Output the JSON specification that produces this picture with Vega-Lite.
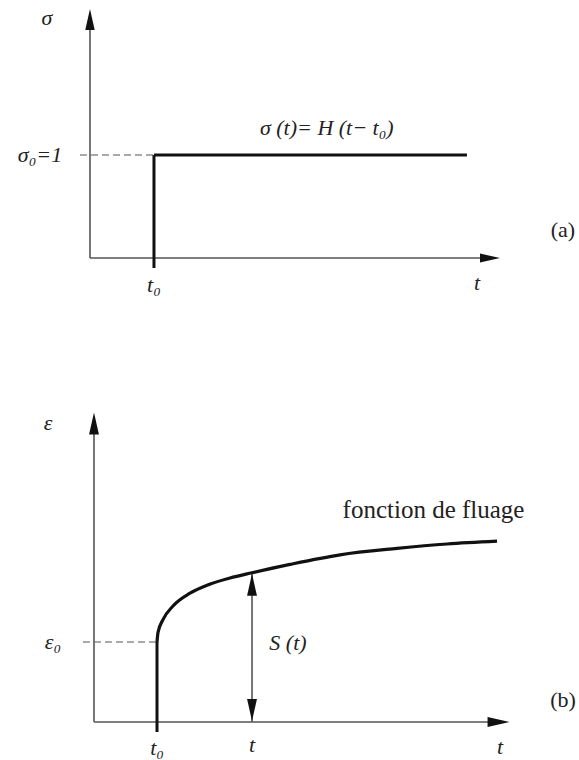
{
  "$schema": "https://vega.github.io/schema/vega-lite/v6.json",
  "padding": 0,
  "spacing": 0,
  "background": "white",
  "config": {"view": {"stroke": null}, "concat": {"spacing": 0}},
  "datasets": {
    "axesA": [
      {"x": 0, "y": 0, "x2": 0, "y2": 2.22},
      {"x": 0, "y": 0, "x2": 6.2, "y2": 0}
    ],
    "stepA": [
      {"x": 1, "y": -0.097, "x2": 1, "y2": 1},
      {"x": 1, "y": 1, "x2": 5.89, "y2": 1}
    ],
    "dashA": [
      {"x": -0.156, "y": 1, "x2": 1, "y2": 1}
    ],
    "arrowUpA": [{"x": 0, "y": 2.316}],
    "arrowRightA": [{"x": 6.25, "y": 0}],
    "mathA": [
      {"x": -0.672, "y": 2.33, "text": "σ"},
      {"x": -0.781, "y": 1.0, "text": "σ₀=1"},
      {"x": 3.70, "y": 1.262, "text": "σ (t)= H (t− t₀)"},
      {"x": 1.0, "y": -0.262, "text": "t₀"},
      {"x": 6.05, "y": -0.243, "text": "t"}
    ],
    "plainA": [
      {"x": 7.39, "y": 0.272, "text": "(a)"}
    ],
    "axesB": [
      {"x": 0, "y": 0, "x2": 0, "y2": 3.6},
      {"x": 0, "y": 0, "x2": 6.35, "y2": 0},
      {"x": 2.508, "y": 0, "x2": 2.508, "y2": 1.865}
    ],
    "stepB": [
      {"x": 1, "y": -0.125, "x2": 1, "y2": 1}
    ],
    "dashB": [
      {"x": -0.175, "y": 1, "x2": 1, "y2": 1}
    ],
    "curveB": [
      {"x": 1.0, "y": 1.0},
      {"x": 1.016, "y": 1.12},
      {"x": 1.095, "y": 1.28},
      {"x": 1.254, "y": 1.45},
      {"x": 1.524, "y": 1.61},
      {"x": 1.794, "y": 1.71},
      {"x": 2.159, "y": 1.80},
      {"x": 2.508, "y": 1.865},
      {"x": 3.111, "y": 1.97},
      {"x": 3.905, "y": 2.09},
      {"x": 4.810, "y": 2.17},
      {"x": 5.603, "y": 2.225},
      {"x": 6.397, "y": 2.26}
    ],
    "arrowUpB": [{"x": 0, "y": 3.731}, {"x": 2.508, "y": 1.715}],
    "arrowDownB": [{"x": 2.508, "y": 0.15}],
    "arrowRightB": [{"x": 6.421, "y": 0}],
    "mathB": [
      {"x": -0.730, "y": 3.74, "text": "ε"},
      {"x": -0.651, "y": 1.0, "text": "ε₀"},
      {"x": 3.079, "y": 0.9875, "text": "S (t)"},
      {"x": 1.0, "y": -0.32, "text": "t₀"},
      {"x": 2.508, "y": -0.2875, "text": "t"},
      {"x": 6.444, "y": -0.3125, "text": "t"}
    ],
    "plainB": [
      {"x": 7.444, "y": 0.275, "text": "(b)"}
    ],
    "noteB": [
      {"x": 5.389, "y": 2.65, "text": "fonction de fluage"}
    ]
  },
  "vconcat": [
    {
      "width": 579,
      "height": 380,
      "encoding": {
        "x": {"field": "x", "type": "quantitative", "scale": {"domain": [-1.406, 7.641], "nice": false, "zero": false}, "axis": null},
        "y": {"field": "y", "type": "quantitative", "scale": {"domain": [-1.184, 2.505], "nice": false, "zero": false}, "axis": null}
      },
      "layer": [
        {"data": {"name": "axesA"}, "mark": {"type": "rule", "color": "#555555", "strokeWidth": 1.6}, "encoding": {"x2": {"field": "x2"}, "y2": {"field": "y2"}}},
        {"data": {"name": "dashA"}, "mark": {"type": "rule", "color": "#555555", "strokeWidth": 1.1, "strokeDash": [7, 4]}, "encoding": {"x2": {"field": "x2"}, "y2": {"field": "y2"}}},
        {"data": {"name": "stepA"}, "mark": {"type": "rule", "color": "#111111", "strokeWidth": 3}, "encoding": {"x2": {"field": "x2"}, "y2": {"field": "y2"}}},
        {"data": {"name": "arrowUpA"}, "mark": {"type": "point", "shape": "M0,-1L0.45,1L-0.45,1Z", "size": 441, "filled": true, "color": "#111111", "opacity": 1}},
        {"data": {"name": "arrowRightA"}, "mark": {"type": "point", "shape": "M1,0L-1,0.45L-1,-0.45Z", "size": 400, "filled": true, "color": "#111111", "opacity": 1}},
        {"data": {"name": "mathA"}, "mark": {"type": "text", "font": "Liberation Serif, DejaVu Serif, serif", "fontStyle": "italic", "fontSize": 22, "color": "#222222", "baseline": "middle", "align": "center"}, "encoding": {"text": {"field": "text"}}},
        {"data": {"name": "plainA"}, "mark": {"type": "text", "font": "Liberation Serif, DejaVu Serif, serif", "fontSize": 22, "color": "#222222", "baseline": "middle", "align": "center"}, "encoding": {"text": {"field": "text"}}}
      ]
    },
    {
      "width": 579,
      "height": 380,
      "encoding": {
        "x": {"field": "x", "type": "quantitative", "scale": {"domain": [-1.492, 7.698], "nice": false, "zero": false}, "axis": null},
        "y": {"field": "y", "type": "quantitative", "scale": {"domain": [-0.475, 4.275], "nice": false, "zero": false}, "axis": null}
      },
      "layer": [
        {"data": {"name": "axesB"}, "mark": {"type": "rule", "color": "#555555", "strokeWidth": 1.6}, "encoding": {"x2": {"field": "x2"}, "y2": {"field": "y2"}}},
        {"data": {"name": "dashB"}, "mark": {"type": "rule", "color": "#555555", "strokeWidth": 1.1, "strokeDash": [7, 4]}, "encoding": {"x2": {"field": "x2"}, "y2": {"field": "y2"}}},
        {"data": {"name": "stepB"}, "mark": {"type": "rule", "color": "#111111", "strokeWidth": 3}, "encoding": {"x2": {"field": "x2"}, "y2": {"field": "y2"}}},
        {"data": {"name": "curveB"}, "mark": {"type": "line", "color": "#111111", "strokeWidth": 3.2, "interpolate": "monotone"}, "encoding": {"order": {"field": "x", "type": "quantitative"}}},
        {"data": {"name": "arrowUpB"}, "mark": {"type": "point", "shape": "M0,-1L0.45,1L-0.45,1Z", "size": 484, "filled": true, "color": "#111111", "opacity": 1}},
        {"data": {"name": "arrowDownB"}, "mark": {"type": "point", "shape": "M0,1L0.45,-1L-0.45,-1Z", "size": 484, "filled": true, "color": "#111111", "opacity": 1}},
        {"data": {"name": "arrowRightB"}, "mark": {"type": "point", "shape": "M1,0L-1,0.45L-1,-0.45Z", "size": 484, "filled": true, "color": "#111111", "opacity": 1}},
        {"data": {"name": "mathB"}, "mark": {"type": "text", "font": "Liberation Serif, DejaVu Serif, serif", "fontStyle": "italic", "fontSize": 22, "color": "#222222", "baseline": "middle", "align": "center"}, "encoding": {"text": {"field": "text"}}},
        {"data": {"name": "plainB"}, "mark": {"type": "text", "font": "Liberation Serif, DejaVu Serif, serif", "fontSize": 22, "color": "#222222", "baseline": "middle", "align": "center"}, "encoding": {"text": {"field": "text"}}},
        {"data": {"name": "noteB"}, "mark": {"type": "text", "font": "Liberation Serif, DejaVu Serif, serif", "fontSize": 25, "color": "#222222", "baseline": "middle", "align": "center"}, "encoding": {"text": {"field": "text"}}}
      ]
    }
  ]
}
